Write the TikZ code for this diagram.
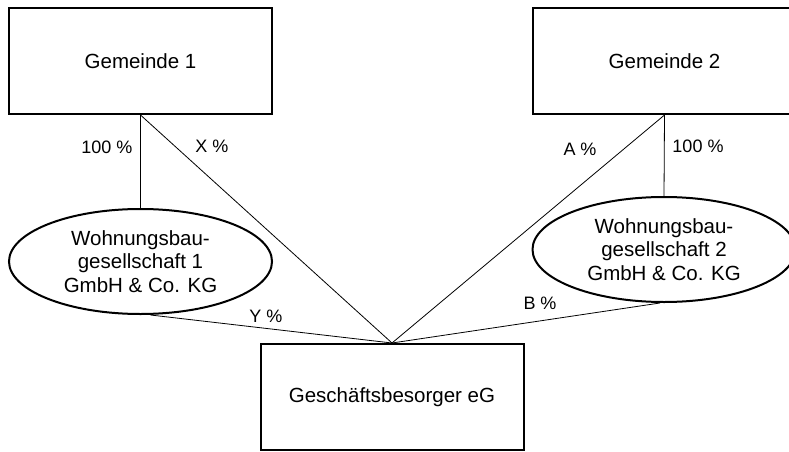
\documentclass[tikz,border=0pt]{standalone}
\usepackage{fontspec}
\setmainfont{Liberation Sans}
\usetikzlibrary{shapes.geometric}
\begin{document}
\begin{tikzpicture}[x=1pt,y=-1pt,
  box/.style={draw,line width=2pt,rectangle,minimum width=263pt,minimum height=106pt,inner sep=0pt,
    font=\fontsize{20.5}{23.5}\selectfont},
  oval/.style={draw,line width=2pt,ellipse,minimum width=263pt,minimum height=105pt,inner sep=0pt,align=center,
    font=\fontsize{20.5}{23.5}\selectfont},
  conn/.style={line width=0.8pt},
  lbl/.style={inner sep=0pt,font=\fontsize{18}{21}\selectfont}]
\clip (0,0) rectangle (789,452);
\fill[white] (0,0) rectangle (789,452);
\node[box] (g1) at (140.5,61) {Gemeinde 1};
\node[box] (g2) at (664.5,61) {Gemeinde 2};
\node[box] (b3) at (392,397) {Geschäftsbesorger eG};
\node[oval] (e1) at (140.5,261.5) {Wohnungsbau-\\gesellschaft 1\\GmbH \& Co. KG};
\node[oval] (e2) at (664,249.5) {Wohnungsbau-\\gesellschaft 2\\GmbH \& Co. KG};
\draw[conn] (g1.south) -- (e1.north);
\draw[conn] (g1.south) -- (b3.north);
\draw[conn] ([xshift=10pt]e1.south) -- (b3.north);
\draw[conn] ([xshift=-4pt]e2.south) -- (b3.north);
\draw[conn] (g2.south) -- (b3.north);
\draw[conn] (g2.south) -- (e2.north);
\node[lbl] (l1) at (107,147) {100 \%};
\node[lbl] (l2) at (212,146) {X \%};
\node[lbl] (l3) at (580,149) {A \%};
\node[lbl] (l4) at (698,146) {100 \%};
\node[lbl] (l5) at (266,316) {Y \%};
\node[lbl] (l6) at (540,303) {B \%};
\end{tikzpicture}
\end{document}
